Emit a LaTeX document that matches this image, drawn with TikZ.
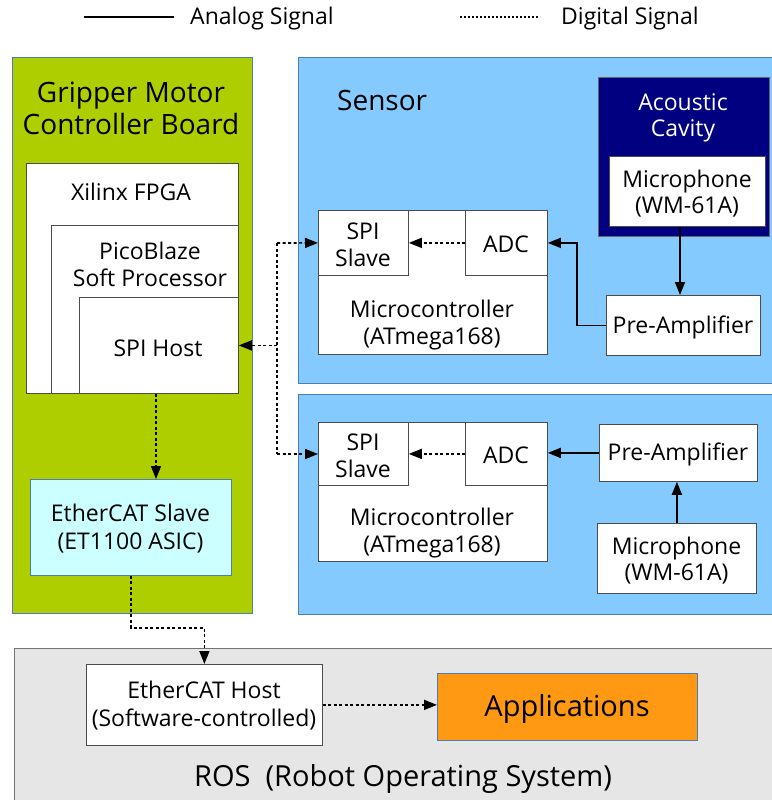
\documentclass[tikz,border=0pt]{standalone}
\usepackage{fontspec}
\setmainfont{Open Sans}
\usetikzlibrary{arrows.meta}

\definecolor{boardgreen}{HTML}{AECE00}
\definecolor{sensorblue}{HTML}{84CAFF}
\definecolor{cavitynavy}{HTML}{000080}
\definecolor{slavecyan}{HTML}{CCFFFF}
\definecolor{rosgray}{HTML}{E6E6E6}
\definecolor{apporange}{HTML}{FF9914}
\definecolor{edgeblue}{HTML}{4A7EBB}

\begin{document}
\begin{tikzpicture}[x=1pt,y=-1pt,
  area/.style={draw=edgeblue, line width=0.8pt, anchor=north west, inner sep=0pt},
  box/.style={draw=black!70, line width=0.8pt, fill=white, anchor=north west, inner sep=0pt},
  txt/.style={inner sep=0pt, align=center, font=\fontsize{23}{27}\selectfont},
  sectxt/.style={inner sep=0pt, align=center, font=\fontsize{28}{32}\selectfont},
  bigtxt/.style={inner sep=0pt, align=center, font=\fontsize{29}{32}\selectfont},
  tip/.style={-{Triangle[length=13pt,width=10pt]}},
  analog/.style={line width=1.6pt},
  digital/.style={line width=1.6pt, dash pattern=on 3pt off 2.5pt},
]
\useasboundingbox (0,0) rectangle (771,800);

% ---------- legend ----------
\node[txt, anchor=west] (lgA) at (190,19) {Analog Signal};
\node[txt, anchor=west] (lgD) at (561,19) {Digital Signal};
\coordinate (lgAs) at (84,17);
\coordinate (lgAe) at (174,17);
\coordinate (lgDs) at (460,17);
\coordinate (lgDe) at (540,17);
\draw[line width=1.2pt] (lgAs) -- (lgAe);
\draw[line width=1.2pt, dash pattern=on 2pt off 2pt] (lgDs) -- (lgDe);

% ---------- gripper motor controller board ----------
\node[area, fill=boardgreen, minimum width=240, minimum height=556] (board) at (12,57) {};
\node[sectxt] (boardt) at (131,108) {Gripper Motor\\Controller Board};

\node[box, minimum width=212, minimum height=230] (fpga) at (26,163) {};
\node[txt] (fpgat) at (131,192) {Xilinx FPGA};
\node[box, minimum width=187, minimum height=168] (pico) at (51,225) {};
\node[txt] (picot) at (150,264) {PicoBlaze\\Soft Processor};
\node[box, minimum width=159, minimum height=96] (host) at (79,297) {};
\node[txt] (hostt) at (158,348) {SPI Host};

\node[area, fill=slavecyan, minimum width=201, minimum height=96] (slave) at (30,479) {};
\node[txt, font=\fontsize{23}{28}\selectfont] (slavet) at (130.5,529) {EtherCAT Slave\\(ET1100 ASIC)};

% ---------- sensor 1 ----------
\node[area, fill=sensorblue, minimum width=475, minimum height=326] (sens1) at (298,57) {};
\node[sectxt, anchor=west] (sens1t) at (337,100) {Sensor};

\node[area, draw=black!60, fill=cavitynavy, minimum width=171, minimum height=159] (cavity) at (598,77) {};
\node[txt, text=white, font=\fontsize{23}{26}\selectfont] (cavityt) at (683,118) {Acoustic\\Cavity};
\node[box, minimum width=156, minimum height=70] (mic1) at (609,156) {};
\node[txt, font=\fontsize{23}{26}\selectfont] (mic1t) at (687,194) {Microphone\\(WM-61A)};

\node[box, minimum width=229, minimum height=144] (mcu1) at (318,210) {};
\node[txt] (mcu1t) at (432,325) {Microcontroller\\(ATmega168)};
\node[box, minimum width=90, minimum height=65] (spi1) at (318,210) {};
\node[txt] (spi1t) at (363,245) {SPI\\Slave};
\node[box, minimum width=82, minimum height=65] (adc1) at (465,210) {};
\node[txt] (adc1t) at (506,244) {ADC};
\node[box, minimum width=154, minimum height=60] (pre1) at (606,295) {};
\node[txt] (pre1t) at (683,327) {Pre-Amplifier};

% ---------- sensor 2 ----------
\node[area, fill=sensorblue, minimum width=475, minimum height=220] (sens2) at (298,394) {};

\node[box, minimum width=229, minimum height=139] (mcu2) at (318,422) {};
\node[txt] (mcu2t) at (432,533) {Microcontroller\\(ATmega168)};
\node[box, minimum width=90, minimum height=63] (spi2) at (318,422) {};
\node[txt] (spi2t) at (363,456) {SPI\\Slave};
\node[box, minimum width=82, minimum height=63] (adc2) at (465,422) {};
\node[txt] (adc2t) at (506,455) {ADC};
\node[box, minimum width=158, minimum height=57] (pre2) at (599,424) {};
\node[txt] (pre2t) at (678,454) {Pre-Amplifier};
\node[box, minimum width=159, minimum height=70] (mic2) at (597,523) {};
\node[txt, font=\fontsize{23}{26}\selectfont] (mic2t) at (676.5,561) {Microphone\\(WM-61A)};

% ---------- ROS ----------
\node[area, draw=black!55, fill=rosgray, minimum width=760, minimum height=155] (ros) at (14,648) {};
\node[bigtxt] (rost) at (403,779) {ROS\ \ (Robot Operating System)};
\node[box, minimum width=236, minimum height=81] (ehost) at (86,664) {};
\node[txt, font=\fontsize{23}{28}\selectfont] (ehostt) at (204,705.5) {EtherCAT Host\\(Software-controlled)};
\node[area, fill=apporange, minimum width=260, minimum height=67] (apps) at (437,673) {};
\node[bigtxt] (appst) at (567,709) {Applications};

% ---------- analog connections ----------
\draw[analog, tip] (mic1.south -| 680,0) -- (680,0 |- pre1.north);
\draw[analog, tip] (pre1.west) -- ++(-29,0) |- (adc1.east);
\draw[analog, tip] (mic2.north) -- (mic2.north |- pre2.south);
\draw[analog, tip] (pre2.west) -- (pre2.west -| adc2.east);

% ---------- digital connections ----------
\draw[digital, tip] (adc1.west) -- (spi1.east);
\draw[digital, tip] (adc2.west) -- (adc2.west -| spi2.east);
\coordinate (busT) at (277,243);
\coordinate (busB) at (277,454);
\draw[digital] (busT) -- (busB);
\draw[digital, tip] (busT) -- (spi1.west);
\draw[digital, tip] (busB) -- (busB -| spi2.west);
\draw[digital, tip] (busT |- host.east) -- (host.east);
\draw[digital, tip] (156,0 |- host.south) -- (156,0 |- slave.north);
\draw[digital, tip] (slave.south) -- ++(0,52) -| (ehost.north);
\draw[digital, tip] (ehost.east) -- (ehost.east -| apps.west);
\end{tikzpicture}
\end{document}
